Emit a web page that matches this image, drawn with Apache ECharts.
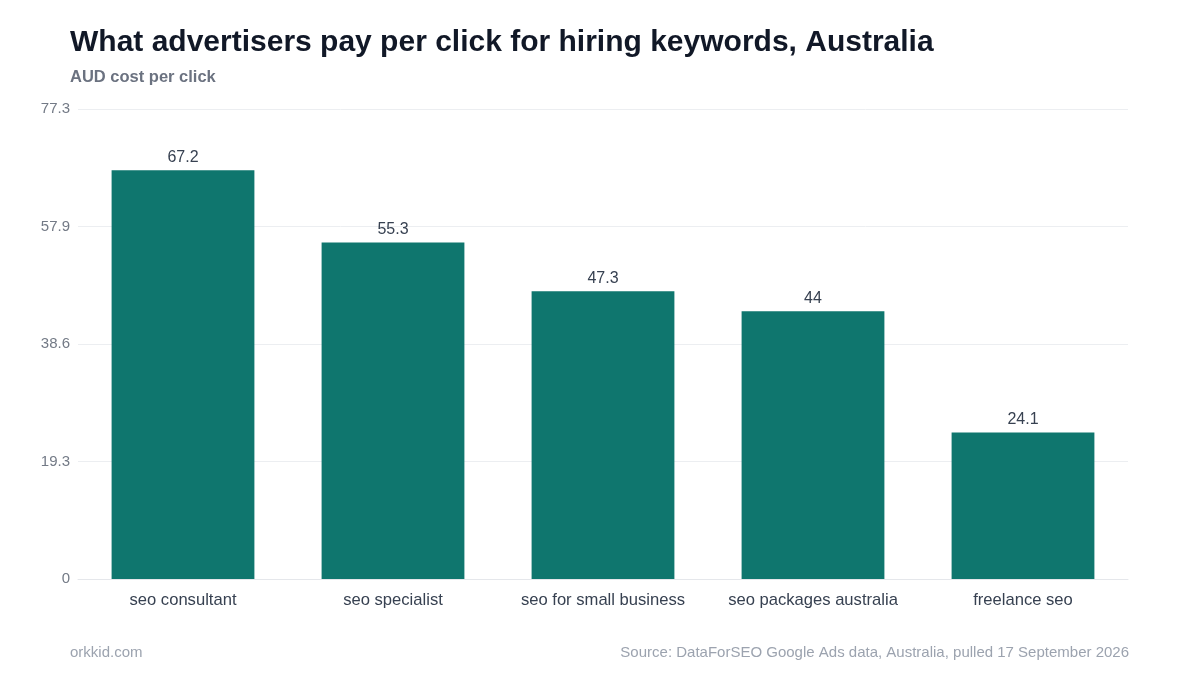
<!DOCTYPE html>
<html><head><meta charset="utf-8">
<script src="https://cdn.jsdelivr.net/npm/echarts@6/dist/echarts.min.js"></script>
<style>html,body{margin:0;padding:0;background:#fff}#c{width:1200px;height:675px}</style>
</head><body><div id="c"></div>
<script>
const categories = ["seo consultant","seo specialist","seo for small business","seo packages australia","freelance seo"];
const values = [67.2, 55.3, 47.3, 44, 24.1];
const yMax = 77.26;
const FONT = '"Liberation Sans", Arial, sans-serif';
const chart = echarts.init(document.getElementById('c'));
chart.setOption({
  backgroundColor: '#ffffff',
  animation: false,
  textStyle: { fontFamily: FONT },
  title: [
    { text: 'What advertisers pay per click for hiring keywords, Australia', left: 65, top: 23,
      textStyle: { fontFamily: FONT, fontSize: 30, fontWeight: 'bold', color: '#111827' } },
    { text: 'AUD cost per click', left: 65, top: 64,
      textStyle: { fontFamily: FONT, fontSize: 16.5, fontWeight: 'bold', color: '#6b7280' } },
    { text: 'orkkid.com', left: 65, top: 640,
      textStyle: { fontFamily: FONT, fontSize: 15, fontWeight: 'normal', color: '#9ca3af' } },
    { text: 'Source: DataForSEO Google Ads data, Australia, pulled 17 September 2026', right: 66, top: 640,
      textStyle: { fontFamily: FONT, fontSize: 15, fontWeight: 'normal', color: '#9ca3af' } }
  ],
  grid: { left: 78, right: 72, top: 109, bottom: 96, containLabel: false },
  xAxis: {
    type: 'category', data: categories,
    axisLine: { show: true, lineStyle: { color: '#e5e7eb', width: 1 } },
    axisTick: { show: false },
    axisLabel: { interval: 0, color: '#374151', fontSize: 16.6, margin: 13, fontFamily: FONT }
  },
  yAxis: {
    type: 'value', min: 0, max: yMax, interval: yMax / 4,
    axisLine: { show: false }, axisTick: { show: false },
    splitLine: { lineStyle: { color: '#eceef1', width: 1 } },
    axisLabel: { color: '#737a86', fontSize: 15, margin: 8, fontFamily: FONT,
      formatter: v => v === 0 ? '0' : v.toFixed(1) }
  },
  series: [{
    type: 'bar', data: values, barWidth: '68%',
    itemStyle: { color: '#0f766e' },
    label: { show: true, position: 'top', distance: 5, color: '#374151', fontSize: 16, fontFamily: FONT }
  }]
});
</script></body></html>
